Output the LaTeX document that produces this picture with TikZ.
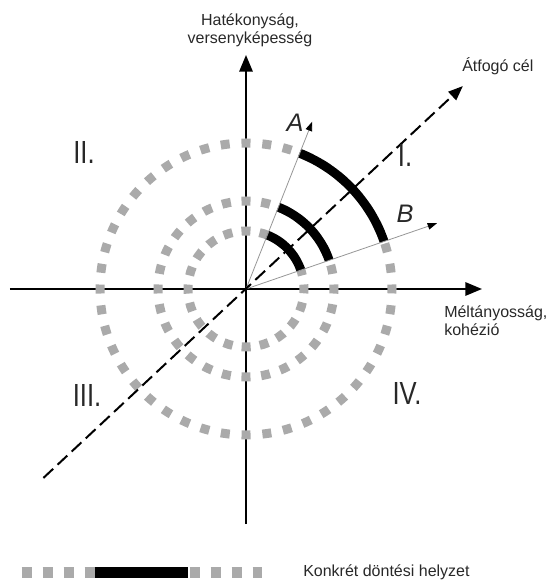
\documentclass[tikz,border=0pt]{standalone}
\usepackage{fontspec}
\setmainfont{Liberation Sans}
\newfontfamily\numfont[FakeStretch=0.8]{Liberation Sans}
\usetikzlibrary{arrows.meta}
\definecolor{dotgray}{RGB}{170,170,170}
\definecolor{txt}{RGB}{40,40,40}
\definecolor{raygray}{RGB}{150,150,150}
\begin{document}
\begin{tikzpicture}[x=0.75pt,y=0.75pt,
  lbl/.style={font=\fontsize{12}{13.5}\selectfont, text=txt, inner sep=0pt},
  roman/.style={font=\numfont\fontsize{24}{26}\selectfont, text=txt, inner sep=0pt},
  letter/.style={font=\fontsize{19}{21}\selectfont\itshape, text=txt, inner sep=0pt},
  axisline/.style={line width=1.5pt, -{Triangle[length=12.5pt,width=10pt]}},
  ring/.style={dotgray, line width=6.75pt},
  arcbar/.style={line width=6.75pt},
  ray/.style={raygray, line width=0.6pt, -{Triangle[length=7pt,width=5pt,color=black]}},
  goal/.style={line width=1.5pt, dash pattern=on 10pt off 4.5pt, -{Triangle[length=11pt,width=8.5pt]}},
  legdots/.style={dotgray, line width=8.25pt, dash pattern=on 7.5pt off 8.25pt},
  legbar/.style={line width=8.25pt}]

\useasboundingbox (-246,-291) rectangle (305,289);

% key points
\coordinate (O) at (0,0);
\coordinate (ytop) at (0,234);
\coordinate (ybot) at (0,-235);
\coordinate (xleft) at (-236,0);
\coordinate (xright) at (236,0);
\coordinate (gstart) at (223:277);
\coordinate (gend) at (43.1:297);
\coordinate (Atip) at (68.4:180);
\coordinate (Btip) at (19:202);

% axes
\draw[axisline] (ybot) -- (ytop);
\draw[axisline] (xleft) -- (xright);

% dotted rings
\draw[ring, dash pattern=on 6.75pt off 8.89pt, dash phase=3.375pt] (O) circle[radius=146];
\draw[ring, dash pattern=on 6.75pt off 8.06pt, dash phase=3.375pt] (O) circle[radius=88];
\draw[ring, dash pattern=on 6.75pt off 6.92pt, dash phase=3.375pt] (O) circle[radius=58];

% black arcs
\draw[arcbar] (19:146) arc[start angle=19, end angle=68.5, radius=146];
\draw[arcbar] (19:88) arc[start angle=19, end angle=68.5, radius=88];
\draw[arcbar] (19:58) arc[start angle=19, end angle=68.5, radius=58];

% rays A and B
\draw[ray] (O) -- (Atip);
\draw[ray] (O) -- (Btip);

% overall goal
\draw[goal] (gstart) -- (gend);

% labels
\node[lbl, anchor=north, align=center] (ylab) at (4,276) {Hatékonyság,\\versenyképesség};
\node[lbl, anchor=north west, align=left] (xlab) at (198,-16) {Méltányosság,\\kohézió};
\node[lbl, anchor=base west] (glab) at (216,217) {Átfogó cél};
\node[letter] (Alab) at (49,166) {A};
\node[letter] (Blab) at (159,75) {B};
\node[roman] (q1) at (159,134) {I.};
\node[roman] (q2) at (-162,137) {II.};
\node[roman] (q3) at (-159,-106) {III.};
\node[roman] (q4) at (161,-104) {IV.};

% legend
\coordinate (l1) at (-224.3,-283.5);
\coordinate (l2) at (16,-283.5);
\coordinate (b1) at (-151,-283.5);
\coordinate (b2) at (-57.7,-283.5);
\draw[legdots] (l1) -- (l2);
\draw[legbar] (b1) -- (b2);
\node[lbl, anchor=base west] (leglab) at (57,-287) {Konkrét döntési helyzet};
\end{tikzpicture}
\end{document}
